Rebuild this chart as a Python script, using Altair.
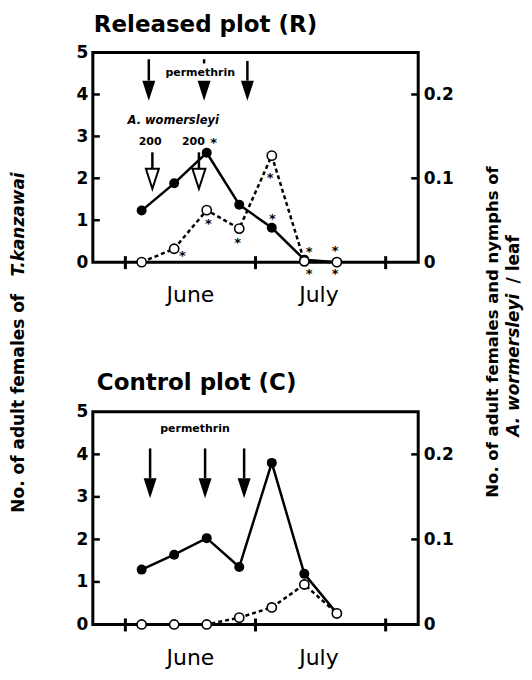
import altair as alt
import pandas as pd

FONT = "DejaVu Sans"

# ---------------- data ----------------
samples = [0, 1, 2, 3, 4, 5, 6]

# Released plot (R)
R_tk = [1.23, 1.88, 2.61, 1.37, 0.82, 0.06, 0.0]          # T. kanzawai (left axis)
R_aw = [0.0, 0.016, 0.062, 0.040, 0.127, 0.001, 0.0]      # A. womersleyi (right axis)
# Control plot (C)
C_tk = [1.29, 1.64, 2.03, 1.35, 3.80, 1.19, 0.26]
C_aw = [0.0, 0.0, 0.0, 0.008, 0.020, 0.047, 0.013]

x_domain = [-1.5, 8.5]
month_pos = [1.5, 5.45]
month_names = ["June", "July"]
x_cross_ticks = [-0.5, 3.5, 7.5]
left_ticks = [0, 1, 2, 3, 4, 5]
left_inner_ticks = [1, 2, 3, 4]
right_ticks = [0, 0.1, 0.2]
right_inner_ticks = [0.1, 0.2]

# permethrin arrows
R_perm_x = [0.22, 1.92, 3.25]
R_perm_top = [4.84, 4.84, 4.80]
R_perm_shaft_end = [4.33, 4.74, 4.33]
R_perm_tip = [3.85, 3.85, 3.85]
R_perm_label = ["permethrin"]
R_perm_label_x = [1.8]
R_perm_label_y = [4.52]

C_perm_x = [0.26, 1.95, 3.15]
C_perm_top = [4.14, 4.14, 4.14]
C_perm_shaft_end = [3.44, 3.44, 3.44]
C_perm_tip = [2.97, 2.97, 2.97]
C_perm_label = ["permethrin"]
C_perm_label_x = [1.64]
C_perm_label_y = [4.59]

# A. womersleyi release arrows (open)
R_rel_x = [0.33, 1.76]
R_rel_top = [2.62, 2.62]
R_rel_shaft_end = [2.22, 2.22]
R_rel_tip = [1.75, 1.75]
R_rel_labels = ["200", "200"]
R_rel_label_x = [0.26, 1.59]
R_rel_label_y = [2.86, 2.86]
R_species_label = ["A. womersleyi"]
R_species_x = [0.97]
R_species_y = [3.37]

# significance asterisks (top panel)
R_star_x = [2.21, 1.25, 2.05, 2.95, 3.95, 4.02, 5.15, 5.15, 5.95, 5.95]
R_star_y = [2.91, 0.21, 0.98, 0.53, 2.09, 1.09, 0.32, -0.22, 0.33, -0.22]

W = 326
H_TOP = 210
H_BOT = 213

HEAD = "M-0.65,-2L0.65,-2L0,0Z"  # triangle with tip at anchor

xs = alt.Scale(domain=x_domain, nice=False, zero=False)
ls = alt.Scale(domain=[0, 5], nice=False, zero=False)
rs = alt.Scale(domain=[0, 0.25], nice=False, zero=False)


def panel(tk, aw, H, title, title_x, title_y, perm, rel=None, stars=None, month_dy=35, side_titles=False):
    df = pd.DataFrame({"x": samples, "tk": tk, "aw": aw})
    base = alt.Chart(df)
    x_none = alt.X("x:Q", scale=xs, axis=None)

    aw_line = base.mark_line(color="black", strokeWidth=2.5, strokeDash=[4, 3]).encode(
        x=x_none, y=alt.Y("aw:Q", scale=rs, axis=None))
    tk_line = base.mark_line(color="black", strokeWidth=2.5).encode(
        x=x_none,
        y=alt.Y("tk:Q", scale=ls, axis=alt.Axis(values=left_ticks, ticks=False, domain=False, grid=False,
                                                title=None, labelFont=FONT, labelFontWeight="bold",
                                                labelFontSize=17, labelColor="black", labelPadding=5)))
    tk_pts = base.mark_circle(size=100, color="black", opacity=1).encode(
        x=x_none, y=alt.Y("tk:Q", scale=ls, axis=None))
    aw_pts = base.mark_point(shape="circle", size=85, filled=True, fill="white", stroke="black",
                             strokeWidth=1.6, opacity=1).encode(
        x=x_none,
        y=alt.Y("aw:Q", scale=rs, axis=alt.Axis(orient="right", values=right_ticks, ticks=False, domain=False,
                                                grid=False, title=None, labelFont=FONT,
                                                labelFontWeight="bold", labelFontSize=17, labelColor="black",
                                                labelPadding=5,
                                                labelExpr="datum.value == 0 ? '0' : format(datum.value, '.1f')")))

    layers = [aw_line, tk_line, tk_pts, aw_pts]

    # month labels under the x axis
    md = pd.DataFrame({"x": month_pos, "t": month_names})
    layers.append(alt.Chart(md).mark_text(font=FONT, fontSize=22, color="black", baseline="alphabetic").encode(
        x=alt.X("x:Q", scale=xs, axis=None), y=alt.value(H + month_dy), text="t:N"))

    # inward ticks
    lt = pd.DataFrame({"v": left_inner_ticks})
    rt = pd.DataFrame({"v": right_inner_ticks})
    xt = pd.DataFrame({"v": x_cross_ticks})
    layers.append(alt.Chart(lt).mark_rule(color="black", strokeWidth=2.5).encode(
        x=alt.value(0), x2=alt.value(7), y=alt.Y("v:Q", scale=ls, axis=None)))
    layers.append(alt.Chart(rt).mark_rule(color="black", strokeWidth=2.5).encode(
        x=alt.value(W - 7), x2=alt.value(W), y=alt.Y("v:Q", scale=rs, axis=None)))
    layers.append(alt.Chart(xt).mark_rule(color="black", strokeWidth=3).encode(
        x=alt.X("v:Q", scale=xs, axis=None), y=alt.value(H - 6), y2=alt.value(H + 7)))

    # permethrin arrows
    px, ptop, pend, ptip, plab, plx, ply = perm
    pa = pd.DataFrame({"x": px, "top": ptop, "end": pend, "tip": ptip})
    layers.append(alt.Chart(pa).mark_rule(color="black", strokeWidth=2.5).encode(
        x=alt.X("x:Q", scale=xs, axis=None), y=alt.Y("top:Q", scale=ls, axis=None), y2="end:Q"))
    layers.append(alt.Chart(pa).mark_point(shape=HEAD, size=400, filled=True, color="black",
                                           strokeWidth=0, opacity=1).encode(
        x=alt.X("x:Q", scale=xs, axis=None), y=alt.Y("tip:Q", scale=ls, axis=None)))
    pl = pd.DataFrame({"x": plx, "y": ply, "t": plab})
    layers.append(alt.Chart(pl).mark_text(font=FONT, fontSize=11, fontWeight="bold", color="black",
                                          baseline="middle").encode(
        x=alt.X("x:Q", scale=xs, axis=None), y=alt.Y("y:Q", scale=ls, axis=None), text="t:N"))

    if rel is not None:
        rx, rtop, rend, rtip, rlab, rlx, rly, sp, spx, spy = rel
        ra = pd.DataFrame({"x": rx, "top": rtop, "end": rend, "tip": rtip})
        layers.append(alt.Chart(ra).mark_rule(color="black", strokeWidth=2.5).encode(
            x=alt.X("x:Q", scale=xs, axis=None), y=alt.Y("top:Q", scale=ls, axis=None), y2="end:Q"))
        layers.append(alt.Chart(ra).mark_point(shape=HEAD, size=400, filled=True, fill="white",
                                               stroke="black", strokeWidth=2, opacity=1).encode(
            x=alt.X("x:Q", scale=xs, axis=None), y=alt.Y("tip:Q", scale=ls, axis=None)))
        rl = pd.DataFrame({"x": rlx, "y": rly, "t": rlab})
        layers.append(alt.Chart(rl).mark_text(font=FONT, fontSize=11, fontWeight="bold", color="black",
                                              baseline="middle").encode(
            x=alt.X("x:Q", scale=xs, axis=None), y=alt.Y("y:Q", scale=ls, axis=None), text="t:N"))
        sl = pd.DataFrame({"x": spx, "y": spy, "t": sp})
        layers.append(alt.Chart(sl).mark_text(font=FONT, fontSize=11.5, fontWeight="bold",
                                              fontStyle="italic", color="black", baseline="middle").encode(
            x=alt.X("x:Q", scale=xs, axis=None), y=alt.Y("y:Q", scale=ls, axis=None), text="t:N"))

    if stars is not None:
        sx, sy = stars
        st = pd.DataFrame({"x": sx, "y": sy, "t": ["*"] * len(sx)})
        layers.append(alt.Chart(st).mark_text(font=FONT, fontSize=13, fontWeight="bold", color="black",
                                              baseline="alphabetic", dy=7).encode(
            x=alt.X("x:Q", scale=xs, axis=None), y=alt.Y("y:Q", scale=ls, axis=None), text="t:N"))

    # panel title
    tdf = pd.DataFrame({"t": [title]})
    layers.append(alt.Chart(tdf).mark_text(font=FONT, fontSize=23, fontWeight="bold", color="black",
                                           align="left", baseline="alphabetic").encode(
        x=alt.value(title_x), y=alt.value(title_y), text="t:N"))

    if side_titles:
        def vtext(txt, xpix, ypix, align, style="normal", size=17):
            d = pd.DataFrame({"t": [txt]})
            return alt.Chart(d).mark_text(font=FONT, fontSize=size, fontWeight="bold", fontStyle=style,
                                          color="black", angle=270, align=align, baseline="middle").encode(
                x=alt.value(xpix), y=alt.value(ypix), text="t:N")
        layers.append(vtext("No. of adult females of", -74, 461, "left"))
        layers.append(vtext("T.kanzawai", -74, 120, "right", "italic"))
        layers.append(vtext("No. of adult females and nymphs of", W + 75, 446, "left", size=16.5))
        layers.append(vtext("A. wormersleyi", W + 96, 385, "left", "italic"))
        layers.append(vtext("/  leaf", W + 96, 183, "right"))

    return alt.layer(*layers).resolve_scale(y="independent").properties(width=W, height=H)


top = panel(R_tk, R_aw, H_TOP, "Released plot (R)", 1, -21,
            (R_perm_x, R_perm_top, R_perm_shaft_end, R_perm_tip, R_perm_label, R_perm_label_x, R_perm_label_y),
            rel=(R_rel_x, R_rel_top, R_rel_shaft_end, R_rel_tip, R_rel_labels, R_rel_label_x, R_rel_label_y,
                 R_species_label, R_species_x, R_species_y),
            stars=(R_star_x, R_star_y), month_dy=40, side_titles=True)
bottom = panel(C_tk, C_aw, H_BOT, "Control plot (C)", 4, -22,
               (C_perm_x, C_perm_top, C_perm_shaft_end, C_perm_tip, C_perm_label, C_perm_label_x, C_perm_label_y),
               month_dy=41)

chart = alt.vconcat(top, bottom, spacing=150).properties(
    bounds="flush",
    padding={"left": 0, "top": 3, "right": 0, "bottom": 0},
    background="white",
).configure_view(stroke="black", strokeWidth=3)

chart.save("out.html", embed_options={"renderer": "svg", "actions": False})
